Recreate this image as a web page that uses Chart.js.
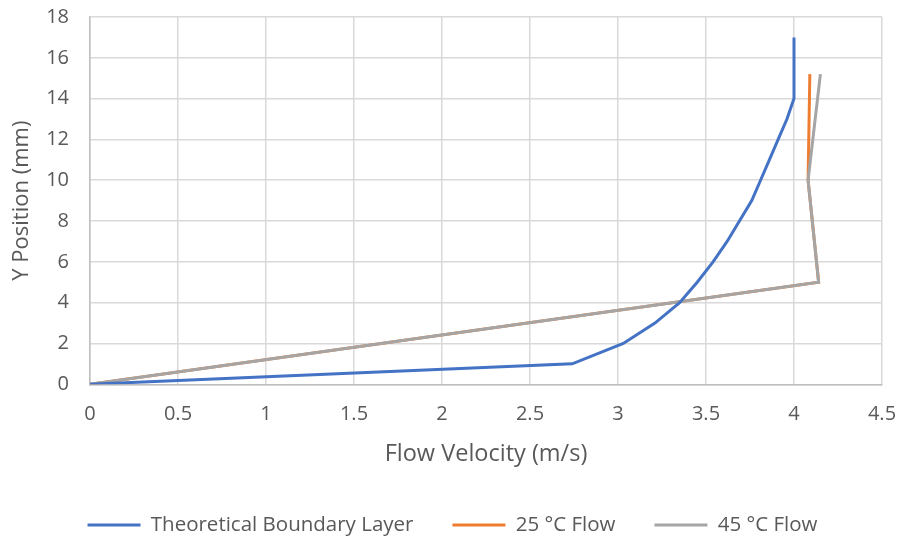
<!DOCTYPE html>
<html><head><meta charset="utf-8">
<script src="https://cdn.jsdelivr.net/npm/chart.js@4/dist/chart.umd.min.js"></script>
<style>html,body{margin:0;padding:0;background:#fff;}canvas{display:block;}</style>
</head><body>
<canvas id="c" width="905" height="542"></canvas>
<script>
// Theoretical boundary layer: y position (mm) and velocity (m/s)
const theoryY = [0, 1, 2, 3, 4, 5, 6, 7, 8, 9, 10, 11, 12, 13, 14, 15, 16, 17];
const theoryV = [0, 2.74, 3.03, 3.21, 3.35, 3.45, 3.54, 3.62, 3.69, 3.76, 3.81, 3.86, 3.91, 3.96, 4.0, 4.0, 4.0, 4.0];
// Measured flows
const flow25Y = [0, 5, 10, 15.2];
const flow25V = [0, 4.14, 4.08, 4.09];
const flow45Y = [0, 5, 10, 15.2];
const flow45V = [0, 4.14, 4.08, 4.15];
// Axis tick settings
const xMin = 0, xMax = 4.5, xStep = 0.5;
const yMin = 0, yMax = 18, yStep = 2;
const seriesNames = ['Theoretical Boundary Layer', '25 °C Flow', '45 °C Flow'];

const pts = (xs, ys) => xs.map((x, i) => ({x: x, y: ys[i]}));
const FONT = '"Open Sans", Lato, sans-serif';
const TXT = '#595959';

// compact legend vertically, centre it on the whole canvas
const legendFit = {
  id: 'legendFit',
  beforeLayout(chart) {
    const lg = chart.legend;
    if (lg && !lg._patched) {
      const f = lg.fit;
      lg.fit = function () { f.call(this); this.height = 66.25; };
      lg._patched = true;
    }
  },
  afterLayout(chart) {
    const lg = chart.legend;
    if (lg) { lg.left = 0; lg.right = chart.width; lg.width = chart.width; }
  }
};

new Chart(document.getElementById('c'), {
  type: 'scatter',
  data: {
    datasets: [
      {label: seriesNames[0], data: pts(theoryV, theoryY), borderColor: '#4472C4', backgroundColor: '#4472C4', order: 0},
      {label: seriesNames[1], data: pts(flow25V, flow25Y), borderColor: '#ED7D31', backgroundColor: '#ED7D31', order: 2},
      {label: seriesNames[2], data: pts(flow45V, flow45Y), borderColor: '#A5A5A5', backgroundColor: '#A5A5A5', order: 1}
    ].map(d => Object.assign(d, {showLine: true, borderWidth: 3, pointRadius: 0, pointHoverRadius: 0, tension: 0}))
  },
  plugins: [legendFit],
  options: {
    responsive: false,
    animation: false,
    layout: {padding: {left: 0, right: 23, top: 17, bottom: 0}},
    plugins: {
      tooltip: {enabled: false},
      legend: {
        position: 'bottom',
        labels: {
          sort: (a, b) => a.datasetIndex - b.datasetIndex,
          usePointStyle: true,
          pointStyle: 'line',
          pointStyleWidth: 53,
          color: TXT,
          font: {family: FONT, size: 20.5},
          padding: 39,
          boxHeight: 20
        }
      }
    },
    scales: {
      x: {
        type: 'linear', min: xMin, max: xMax,
        ticks: {stepSize: xStep, color: TXT, font: {family: FONT, size: 20}, padding: 18,
          callback: v => String(v)},
        grid: {color: '#d9d9d9', lineWidth: 1.5, drawTicks: false},
        border: {color: '#bfbfbf', width: 1.5},
        title: {display: true, text: 'Flow Velocity (m/s)', color: TXT, font: {family: FONT, size: 23.5}, padding: {top: 8, bottom: 7}},
        afterFit: s => { s.height = 91.5; s.paddingLeft = 0; s.paddingRight = 0; }
      },
      y: {
        type: 'linear', min: yMin, max: yMax,
        ticks: {stepSize: yStep, color: TXT, font: {family: FONT, size: 20}, padding: 21},
        grid: {color: '#d9d9d9', lineWidth: 1.5, drawTicks: false},
        border: {color: '#bfbfbf', width: 1.5},
        title: {display: true, text: 'Y Position (mm)', color: TXT, font: {family: FONT, size: 22}, padding: {top: 9, bottom: 6}},
        afterFit: s => { s.width = 90; s.paddingTop = 0; s.paddingBottom = 0; }
      }
    }
  }
});
</script>
</body></html>
